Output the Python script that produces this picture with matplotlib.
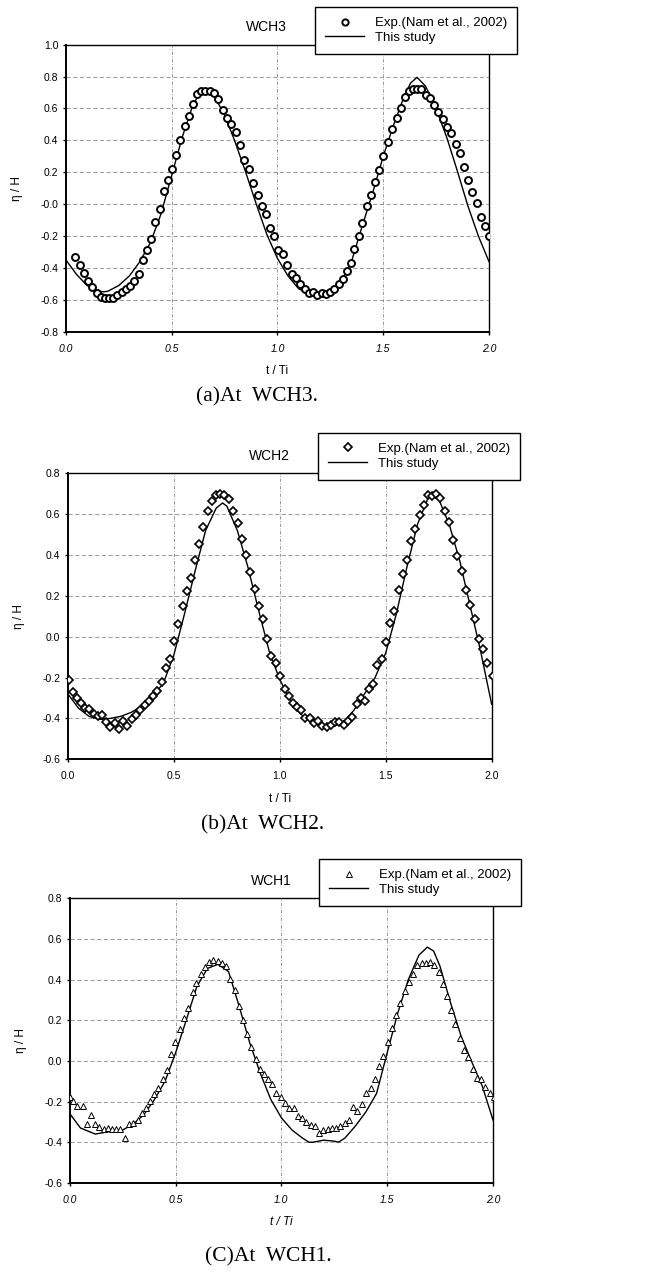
import numpy as np
import matplotlib
matplotlib.use("Agg")
import matplotlib.pyplot as plt
from matplotlib.lines import Line2D

plt.rcParams["font.family"] = ["Liberation Sans", "DejaVu Sans"]

# ── (a) WCH3 ──
a_exp_t = [0.044, 0.065, 0.085, 0.105, 0.124, 0.145, 0.165, 0.183, 0.203, 0.223,
           0.242, 0.263, 0.283, 0.302, 0.323, 0.345, 0.364, 0.384, 0.403, 0.423,
           0.444, 0.463, 0.482, 0.500, 0.521, 0.541, 0.562, 0.581, 0.601, 0.620,
           0.639, 0.659, 0.680, 0.700, 0.721, 0.743, 0.763, 0.782, 0.803, 0.823,
           0.843, 0.864, 0.884, 0.906, 0.927, 0.947, 0.965, 0.985, 1.005, 1.026,
           1.046, 1.067, 1.087, 1.108, 1.128, 1.149, 1.169, 1.188, 1.209, 1.228,
           1.248, 1.268, 1.289, 1.308, 1.327, 1.346, 1.364, 1.384, 1.402, 1.423,
           1.443, 1.462, 1.482, 1.500, 1.522, 1.542, 1.563, 1.583, 1.603, 1.620,
           1.639, 1.659, 1.679, 1.700, 1.720, 1.741, 1.761, 1.782, 1.802, 1.822,
           1.843, 1.862, 1.880, 1.901, 1.921, 1.942, 1.962, 1.983, 2.002]
a_exp_eta = [-0.33, -0.38, -0.43, -0.48, -0.52, -0.56, -0.58, -0.59, -0.59, -0.59,
             -0.57, -0.55, -0.53, -0.51, -0.48, -0.44, -0.35, -0.29, -0.22, -0.11,
             -0.03, 0.08, 0.15, 0.22, 0.31, 0.40, 0.49, 0.55, 0.63, 0.69,
             0.71, 0.71, 0.71, 0.70, 0.66, 0.59, 0.54, 0.50, 0.45, 0.37,
             0.28, 0.22, 0.13, 0.06, -0.01, -0.06, -0.15, -0.20, -0.29, -0.31,
             -0.38, -0.44, -0.46, -0.50, -0.535, -0.555, -0.55, -0.57, -0.56, -0.565,
             -0.55, -0.53, -0.50, -0.47, -0.42, -0.37, -0.28, -0.20, -0.12, -0.01,
             0.06, 0.14, 0.215, 0.30, 0.39, 0.47, 0.54, 0.605, 0.67, 0.71,
             0.72, 0.72, 0.72, 0.685, 0.665, 0.62, 0.575, 0.535, 0.485, 0.445,
             0.38, 0.32, 0.23, 0.15, 0.075, 0.01, -0.08, -0.135, -0.20]
a_sim_t = [0.00, 0.05, 0.10, 0.15, 0.18, 0.20, 0.25, 0.30, 0.35, 0.40,
           0.45, 0.50, 0.55, 0.60, 0.63, 0.66, 0.70, 0.75, 0.80, 0.85,
           0.90, 0.95, 1.00, 1.05, 1.10, 1.15, 1.20, 1.25, 1.30, 1.35,
           1.40, 1.45, 1.50, 1.55, 1.60, 1.63, 1.66, 1.70, 1.75, 1.80,
           1.85, 1.90, 1.95, 2.00]
a_sim_eta = [-0.35, -0.44, -0.51, -0.545, -0.55, -0.545, -0.51, -0.45, -0.36, -0.24,
             -0.06, 0.18, 0.42, 0.62, 0.69, 0.71, 0.68, 0.56, 0.39, 0.20,
             0.00, -0.19, -0.34, -0.45, -0.53, -0.565, -0.58, -0.57, -0.49, -0.36,
             -0.14, 0.07, 0.30, 0.50, 0.68, 0.76, 0.795, 0.74, 0.60, 0.42,
             0.21, -0.01, -0.20, -0.36]

# ── (b) WCH2 ──
b_exp_t = [0.005, 0.024, 0.044, 0.063, 0.083, 0.102, 0.123, 0.143, 0.162, 0.181,
           0.201, 0.222, 0.242, 0.261, 0.281, 0.302, 0.321, 0.341, 0.362, 0.382,
           0.403, 0.423, 0.445, 0.462, 0.483, 0.502, 0.522, 0.543, 0.561, 0.580,
           0.599, 0.620, 0.640, 0.660, 0.681, 0.700, 0.719, 0.739, 0.760, 0.781,
           0.802, 0.823, 0.841, 0.860, 0.882, 0.903, 0.921, 0.942, 0.961, 0.980,
           1.003, 1.024, 1.042, 1.061, 1.082, 1.102, 1.121, 1.142, 1.160, 1.181,
           1.201, 1.222, 1.241, 1.261, 1.281, 1.302, 1.322, 1.343, 1.363, 1.382,
           1.403, 1.422, 1.442, 1.461, 1.481, 1.501, 1.520, 1.541, 1.561, 1.580,
           1.599, 1.620, 1.640, 1.660, 1.679, 1.700, 1.719, 1.738, 1.758, 1.779,
           1.799, 1.819, 1.838, 1.859, 1.879, 1.900, 1.920, 1.939, 1.959, 1.980, 2.005]
b_exp_eta = [-0.21, -0.27, -0.30, -0.325, -0.35, -0.355, -0.38, -0.39, -0.385, -0.42,
             -0.44, -0.425, -0.45, -0.415, -0.435, -0.405, -0.385, -0.36, -0.335, -0.315,
             -0.29, -0.265, -0.22, -0.155, -0.11, -0.02, 0.06, 0.15, 0.225, 0.29,
             0.375, 0.455, 0.535, 0.615, 0.665, 0.695, 0.70, 0.695, 0.675, 0.615,
             0.555, 0.48, 0.40, 0.315, 0.235, 0.15, 0.085, -0.01, -0.095, -0.13,
             -0.19, -0.255, -0.29, -0.325, -0.345, -0.36, -0.40, -0.40, -0.425, -0.415,
             -0.435, -0.44, -0.43, -0.42, -0.42, -0.43, -0.415, -0.395, -0.33, -0.30,
             -0.315, -0.255, -0.23, -0.14, -0.11, -0.025, 0.065, 0.125, 0.23, 0.305,
             0.375, 0.47, 0.53, 0.595, 0.645, 0.695, 0.69, 0.70, 0.68, 0.615,
             0.56, 0.475, 0.395, 0.32, 0.23, 0.155, 0.085, -0.01, -0.06, -0.13, -0.19]
b_sim_t = [0.00, 0.05, 0.10, 0.15, 0.20, 0.25, 0.30, 0.35, 0.40, 0.45,
           0.50, 0.55, 0.60, 0.65, 0.70, 0.73, 0.75, 0.80, 0.85, 0.90,
           0.95, 1.00, 1.05, 1.10, 1.15, 1.20, 1.25, 1.30, 1.35, 1.40,
           1.45, 1.50, 1.55, 1.60, 1.65, 1.70, 1.72, 1.75, 1.80, 1.85,
           1.90, 1.95, 2.00]
b_sim_eta = [-0.28, -0.35, -0.39, -0.405, -0.40, -0.39, -0.37, -0.34, -0.29, -0.23,
             -0.09, 0.11, 0.32, 0.52, 0.63, 0.655, 0.64, 0.52, 0.34, 0.13,
             -0.07, -0.21, -0.31, -0.38, -0.42, -0.44, -0.44, -0.42, -0.36, -0.28,
             -0.20, -0.08, 0.11, 0.34, 0.55, 0.68, 0.69, 0.675, 0.55, 0.37,
             0.145, -0.08, -0.33]

# ── (c) WCH1 ──
c_exp_t = [0.000, 0.016, 0.036, 0.060, 0.082, 0.099, 0.120, 0.139, 0.161, 0.180,
           0.200, 0.220, 0.239, 0.261, 0.280, 0.299, 0.320, 0.340, 0.359, 0.378,
           0.398, 0.419, 0.439, 0.458, 0.479, 0.499, 0.520, 0.540, 0.560, 0.580,
           0.598, 0.619, 0.638, 0.658, 0.679, 0.699, 0.718, 0.739, 0.759, 0.780,
           0.800, 0.820, 0.839, 0.858, 0.879, 0.899, 0.918, 0.939, 0.957, 0.976,
           0.997, 1.017, 1.038, 1.058, 1.077, 1.098, 1.118, 1.139, 1.157, 1.178,
           1.198, 1.219, 1.238, 1.258, 1.279, 1.299, 1.320, 1.339, 1.357, 1.383,
           1.402, 1.422, 1.443, 1.463, 1.482, 1.502, 1.521, 1.542, 1.562, 1.583,
           1.603, 1.622, 1.643, 1.663, 1.683, 1.704, 1.723, 1.743, 1.764, 1.783,
           1.803, 1.822, 1.843, 1.863, 1.884, 1.904, 1.924, 1.943, 1.964, 1.984, 2.004]
c_exp_eta = [-0.18, -0.195, -0.22, -0.22, -0.31, -0.265, -0.31, -0.325, -0.335, -0.33,
             -0.335, -0.335, -0.335, -0.38, -0.31, -0.305, -0.29, -0.255, -0.23, -0.195,
             -0.165, -0.135, -0.09, -0.045, 0.035, 0.095, 0.155, 0.21, 0.26, 0.34,
             0.385, 0.43, 0.46, 0.485, 0.495, 0.49, 0.48, 0.465, 0.405, 0.35,
             0.27, 0.20, 0.13, 0.07, 0.01, -0.04, -0.065, -0.09, -0.115, -0.16,
             -0.18, -0.205, -0.23, -0.23, -0.27, -0.28, -0.30, -0.315, -0.32, -0.355,
             -0.34, -0.335, -0.33, -0.33, -0.32, -0.305, -0.29, -0.225, -0.245, -0.21,
             -0.16, -0.135, -0.09, -0.025, 0.025, 0.095, 0.16, 0.225, 0.285, 0.345,
             0.39, 0.43, 0.47, 0.48, 0.48, 0.485, 0.47, 0.435, 0.38, 0.32,
             0.25, 0.18, 0.115, 0.055, 0.02, -0.04, -0.085, -0.09, -0.13, -0.16, -0.18]
c_sim_t = [0.00, 0.05, 0.12, 0.20, 0.25, 0.30, 0.35, 0.40, 0.45, 0.50,
           0.55, 0.60, 0.65, 0.70, 0.75, 0.80, 0.85, 0.90, 0.95, 1.00,
           1.05, 1.10, 1.13, 1.15, 1.20, 1.25, 1.27, 1.30, 1.35, 1.40,
           1.45, 1.50, 1.55, 1.60, 1.65, 1.69, 1.72, 1.75, 1.80, 1.85,
           1.90, 1.95, 2.00]
c_sim_eta = [-0.26, -0.33, -0.36, -0.345, -0.34, -0.31, -0.265, -0.19, -0.10, 0.04,
             0.20, 0.365, 0.455, 0.475, 0.44, 0.27, 0.09, -0.06, -0.19, -0.28,
             -0.34, -0.38, -0.40, -0.40, -0.39, -0.395, -0.40, -0.38, -0.32, -0.25,
             -0.16, 0.04, 0.235, 0.40, 0.52, 0.56, 0.54, 0.465, 0.285, 0.12,
             -0.005, -0.125, -0.29]

PANELS = [
    dict(title="WCH3", t=a_exp_t, eta=a_exp_eta, st=a_sim_t, seta=a_sim_eta,
         marker="o", ms=5, mew=1.4, ylim=(-0.8, 1.0),
         rect=[0.100, 0.740, 0.642, 0.225], leg=(0.478, 0.9945),
         caption="(a)At  WCH3.", cap=(0.39, 0.689), italic_x=True, italic_lab=False),
    dict(title="WCH2", t=b_exp_t, eta=b_exp_eta, st=b_sim_t, seta=b_sim_eta,
         marker="D", ms=4.2, mew=1.2, ylim=(-0.6, 0.8),
         rect=[0.103, 0.405, 0.643, 0.224], leg=(0.4825, 0.6607),
         caption="(b)At  WCH2.", cap=(0.399, 0.3535), italic_x=False, italic_lab=False),
    dict(title="WCH1", t=c_exp_t, eta=c_exp_eta, st=c_sim_t, seta=c_sim_eta,
         marker="^", ms=5, mew=0.7, ylim=(-0.6, 0.8),
         rect=[0.106, 0.073, 0.642, 0.223], leg=(0.484, 0.3268),
         caption="(C)At  WCH1.", cap=(0.407, 0.0149), italic_x=True, italic_lab=True),
]

fig = plt.figure(figsize=(6.59, 12.76), dpi=100)

for p in PANELS:
    ax = fig.add_axes(p["rect"])
    lo, hi = p["ylim"]
    yt = np.round(np.arange(lo, hi + 0.001, 0.2), 1)

    # grid
    for y in yt[1:-1]:
        ax.axhline(y, color="#8a8a8a", lw=0.6, ls=(0, (5, 3)), zorder=0)
    for x in [0.5, 1.0, 1.5]:
        ax.axvline(x, color="#8a8a8a", lw=0.6, ls=(0, (4, 2, 1, 2)), zorder=0)

    ax.plot(p["st"], p["seta"], color="black", lw=1.0, zorder=2)
    ax.plot(p["t"], p["eta"], ls="none", marker=p["marker"], ms=p["ms"],
            mfc="white", mec="black", mew=p["mew"], zorder=3)

    ax.set_xlim(0, 2.0)
    ax.set_ylim(lo, hi)
    ax.set_xticks([0.0, 0.5, 1.0, 1.5, 2.0])
    ax.set_xticklabels(["0.0", "0.5", "1.0", "1.5", "2.0"], fontsize=7.5,
                       fontstyle="italic" if p["italic_x"] else "normal")
    ax.set_yticks(yt)
    ax.set_yticklabels([f"{v:.1f}" for v in yt], fontsize=7.5)
    ax.tick_params(length=2.5, width=1.0, direction="out", pad=3)
    ax.tick_params(axis="x", pad=6)
    for side in ["left", "bottom"]:
        ax.spines[side].set_linewidth(1.4)
    for side in ["top", "right"]:
        ax.spines[side].set_linewidth(1.0)

    ax.text(0.475, 1.06, p["title"], transform=ax.transAxes, ha="center",
            va="center", fontsize=10)
    ax.text(-0.116, 0.5, "η / H", transform=ax.transAxes, rotation=90,
            ha="center", va="center", fontsize=8.5)
    ax.text(0.5, -0.138, "t / Ti", transform=ax.transAxes, ha="center",
            va="center", fontsize=8.5,
            fontstyle="italic" if p["italic_lab"] else "normal")

    handles = [
        Line2D([], [], ls="none", marker=p["marker"], ms=p["ms"] - 0.5,
               mfc="white", mec="black", mew=p["mew"]),
        Line2D([], [], color="black", lw=1.0),
    ]
    leg = ax.legend(handles, ["Exp.(Nam et al., 2002)", "This study"],
                    loc="upper left", bbox_to_anchor=p["leg"],
                    bbox_transform=fig.transFigure, fontsize=9.5,
                    frameon=True, fancybox=False, framealpha=1,
                    edgecolor="black", handlelength=3.0, handletextpad=0.8,
                    labelspacing=0.2, borderpad=0.75, borderaxespad=0)
    leg.get_frame().set_linewidth(1.0)
    leg.set_zorder(5)

    fig.text(p["cap"][0], p["cap"][1], p["caption"], ha="center", va="center",
             fontsize=15.5, family=["Liberation Serif", "DejaVu Serif"])

fig.savefig("out.png", dpi=100)
plt.close(fig)
